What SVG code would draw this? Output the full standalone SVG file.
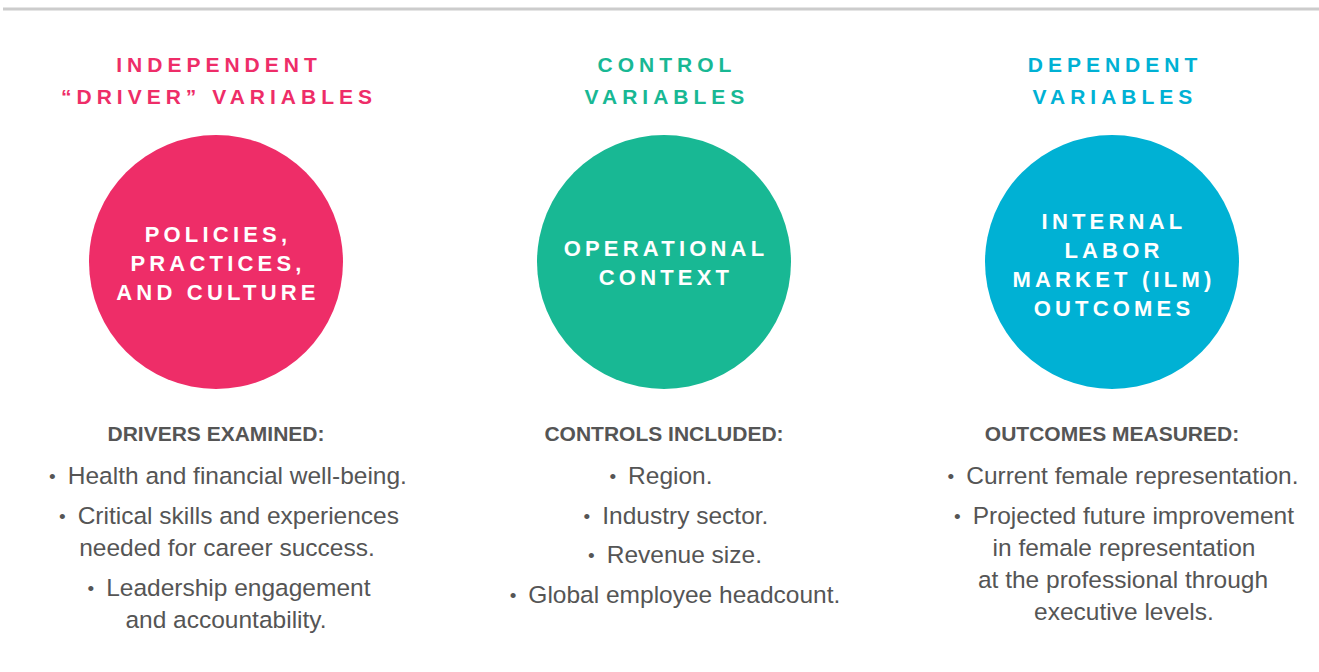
<svg xmlns="http://www.w3.org/2000/svg" width="1319" height="672" viewBox="0 0 1319 672">
<style>
.hd{font-family:"Liberation Sans",Arial,sans-serif;font-weight:bold;font-size:21px;letter-spacing:5px;text-anchor:middle}
.ct{font-family:"Liberation Sans",Arial,sans-serif;font-weight:bold;font-size:22px;letter-spacing:4.2px;fill:#fff;text-anchor:middle}
.sh{font-family:"Liberation Sans",Arial,sans-serif;font-weight:bold;font-size:21px;fill:#555;text-anchor:middle}
.bl{font-family:"Liberation Sans",Arial,sans-serif;font-size:24.5px;fill:#555;text-anchor:middle}
.b{font-size:19px}
</style>
<rect width="1319" height="672" fill="#fff"/>
<line x1="3" y1="9" x2="1319" y2="9" stroke="#cccccc" stroke-width="3"/>
<g id="independent">
<text class="hd" fill="#ee2d68"><tspan x="219" y="72">INDEPENDENT</tspan><tspan x="219" y="104">“DRIVER” VARIABLES</tspan></text>
<circle cx="216" cy="262" r="127" fill="#ee2d68"/>
<text class="ct"><tspan x="218" y="242">POLICIES,</tspan><tspan x="218" y="271">PRACTICES,</tspan><tspan x="218" y="300">AND CULTURE</tspan></text>
<text class="sh" x="216" y="441">DRIVERS EXAMINED:</text>
<text class="bl"><tspan x="228" y="483" class="b">•</tspan><tspan dx="12" dy="1">Health and financial well-being.</tspan><tspan x="229" y="523" class="b">•</tspan><tspan dx="12" dy="1">Critical skills and experiences</tspan><tspan x="227" y="556">needed for career success.</tspan><tspan x="229" y="595" class="b">•</tspan><tspan dx="12" dy="1">Leadership engagement</tspan><tspan x="226" y="628">and accountability.</tspan></text>
</g>
<g id="control">
<text class="hd" fill="#18b894"><tspan x="667" y="72">CONTROL</tspan><tspan x="667" y="104">VARIABLES</tspan></text>
<circle cx="664" cy="262" r="127" fill="#18b894"/>
<text class="ct"><tspan x="666" y="256">OPERATIONAL</tspan><tspan x="666" y="285">CONTEXT</tspan></text>
<text class="sh" x="664" y="441">CONTROLS INCLUDED:</text>
<text class="bl"><tspan x="661" y="483" class="b">•</tspan><tspan dx="12" dy="1">Region.</tspan><tspan x="676" y="523" class="b">•</tspan><tspan dx="12" dy="1">Industry sector.</tspan><tspan x="675" y="562" class="b">•</tspan><tspan dx="12" dy="1">Revenue size.</tspan><tspan x="675" y="602" class="b">•</tspan><tspan dx="12" dy="1">Global employee headcount.</tspan></text>
</g>
<g id="dependent">
<text class="hd" fill="#00b1d4"><tspan x="1115" y="72">DEPENDENT</tspan><tspan x="1115" y="104">VARIABLES</tspan></text>
<circle cx="1112" cy="262" r="127" fill="#00b1d4"/>
<text class="ct"><tspan x="1114" y="229">INTERNAL</tspan><tspan x="1114" y="258">LABOR</tspan><tspan x="1114" y="287">MARKET (ILM)</tspan><tspan x="1114" y="316">OUTCOMES</tspan></text>
<text class="sh" x="1112" y="441">OUTCOMES MEASURED:</text>
<text class="bl"><tspan x="1123" y="483" class="b">•</tspan><tspan dx="12" dy="1">Current female representation.</tspan><tspan x="1124" y="523" class="b">•</tspan><tspan dx="12" dy="1">Projected future improvement</tspan><tspan x="1124" y="556">in female representation</tspan><tspan x="1123" y="588">at the professional through</tspan><tspan x="1124" y="620">executive levels.</tspan></text>
</g>
<g id="connectors"></g>
</svg>
